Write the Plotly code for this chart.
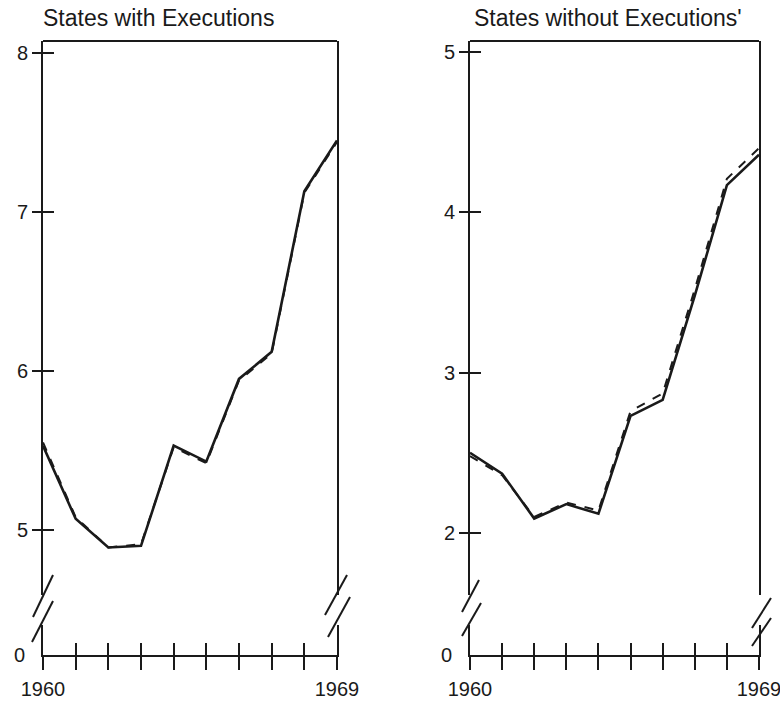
import plotly.graph_objects as go

# ---- data ----
years = list(range(1960, 1970))
with_exec_solid = [5.53, 5.07, 4.89, 4.90, 5.53, 5.43, 5.95, 6.12, 7.13, 7.45]
with_exec_dashed = [5.55, 5.08, 4.89, 4.91, 5.52, 5.42, 5.94, 6.11, 7.12, 7.44]
without_exec_solid = [2.50, 2.37, 2.09, 2.18, 2.12, 2.73, 2.83, 3.48, 4.17, 4.36]
without_exec_dashed = [2.48, 2.36, 2.10, 2.19, 2.14, 2.76, 2.87, 3.52, 4.21, 4.40]
left_ticks = [5, 6, 7, 8]
right_ticks = [2, 3, 4, 5]
x_tick_labels = ["1960"] + [""] * 8 + ["1969"]
titles = ["States with Executions", "States without Executions'"]

W, H = 780, 701
INK = "#1a1a1a"
FONT = "Liberation Sans, Arial, sans-serif"


def px(x):
    return x / W


def py(y):
    return 1 - y / H


fig = go.Figure()

for xa, ya, ys, name in [("x", "y2", with_exec_solid, "solid"), ("x", "y2", with_exec_dashed, "dashed"),
                         ("x2", "y4", without_exec_solid, "solid"), ("x2", "y4", without_exec_dashed, "dashed")]:
    fig.add_trace(go.Scatter(
        x=years, y=ys, xaxis=xa, yaxis=ya, mode="lines",
        line=dict(color=INK, width=2.6 if name == "solid" else 2, dash="solid" if name == "solid" else "dash"),
        showlegend=False, hoverinfo="skip"))

tickfont = dict(family=FONT, size=20, color=INK)


def xaxis(domain, anchor, inside=False, overlay=None):
    d = dict(domain=domain, anchor=anchor, range=[1960, 1969], tickvals=years,
             ticks="inside" if inside else "outside", ticklen=12 if inside else 13,
             tickwidth=2, tickcolor=INK, showgrid=False, zeroline=False,
             fixedrange=True, automargin=False)
    if inside:
        d.update(showticklabels=False, showline=False, overlaying=overlay)
    else:
        d.update(ticktext=x_tick_labels, tickfont=tickfont, showline=True,
                 linecolor=INK, linewidth=2, ticklabelstandoff=2,
                 ticklabeloverflow="allow")
    return d


def yupper(domain, anchor, rng, tv, inside=False, overlay=None):
    d = dict(domain=domain, anchor=anchor, range=rng, tickvals=tv,
             ticks="inside" if inside else "outside", ticklen=11 if inside else 9,
             tickwidth=2, tickcolor=INK, showgrid=False, zeroline=False, fixedrange=True,
             automargin=False)
    if inside:
        d.update(showticklabels=False, showline=False, overlaying=overlay)
    else:
        d.update(tickfont=tickfont, showline=True, mirror=True, linecolor=INK, linewidth=2)
    return d


def ylower(domain, anchor):
    return dict(domain=domain, anchor=anchor, range=[0, 1], tickvals=[0],
                ticktext=["0"], ticks="", tickfont=tickfont, showline=True, mirror=True,
                linecolor=INK, linewidth=2, showgrid=False, zeroline=False,
                fixedrange=True, ticklabelstandoff=12, automargin=False)


upper_dom = [py(595), py(41)]
lower_dom = [py(655), py(625)]
left_x = [px(43), px(337)]
right_x = [px(470), px(759)]

fig.update_layout(
    width=W, height=H,
    margin=dict(l=0, r=0, t=0, b=0, autoexpand=False),
    paper_bgcolor="white", plot_bgcolor="white",
    xaxis=xaxis(left_x, "y"),
    yaxis=ylower(lower_dom, "x"),
    yaxis2=yupper(upper_dom, "x", [4.591, 8.075], left_ticks),
    xaxis2=xaxis(right_x, "y3"),
    yaxis3=ylower(lower_dom, "x2"),
    yaxis4=yupper(upper_dom, "x2", [1.613, 5.069], right_ticks),
    xaxis5=xaxis(left_x, "y", inside=True, overlay="x"),
    yaxis5=yupper(upper_dom, "x", [4.591, 8.075], left_ticks, inside=True, overlay="y2"),
    xaxis6=xaxis(right_x, "y3", inside=True, overlay="x2"),
    yaxis6=yupper(upper_dom, "x2", [1.613, 5.069], right_ticks, inside=True, overlay="y4"),
)

# empty traces so the lower (zero) axes and overlay axes exist as subplots
for xa, ya in [("x", "y"), ("x2", "y3"), ("x5", "y5"), ("x6", "y6")]:
    fig.add_trace(go.Scatter(x=[], y=[], xaxis=xa, yaxis=ya, showlegend=False, hoverinfo="skip"))

# top borders
for xd, yd in [("x domain", "y2 domain"), ("x2 domain", "y4 domain")]:
    fig.add_shape(type="line", xref=xd, yref=yd, x0=0, x1=1, y0=1, y1=1,
                  line=dict(color=INK, width=2))

# axis break slashes (decoration)
slashes = [
    ((53, 575), (33, 617)), ((53, 601), (32, 642)),
    ((347, 575), (325, 615)), ((350, 597), (328, 637)),
    ((479, 580), (462, 612)), ((481, 603), (462, 636)),
    ((771, 598), (752, 628)), ((771, 618), (752, 646)),
]
for (xa0, ya0), (xa1, ya1) in slashes:
    fig.add_shape(type="line", xref="paper", yref="paper",
                  x0=px(xa0), y0=py(ya0), x1=px(xa1), y1=py(ya1),
                  line=dict(color=INK, width=2))

# panel titles
for t, x0 in zip(titles, [41, 472]):
    fig.add_annotation(text=t, xref="paper", yref="paper", x=px(x0), y=py(18),
                       xanchor="left", yanchor="middle", showarrow=False,
                       font=dict(family=FONT, size=23, color=INK))

fig.write_html("out.html", config={"displayModeBar": False},
               post_script="document.body.style.margin='0px';")
